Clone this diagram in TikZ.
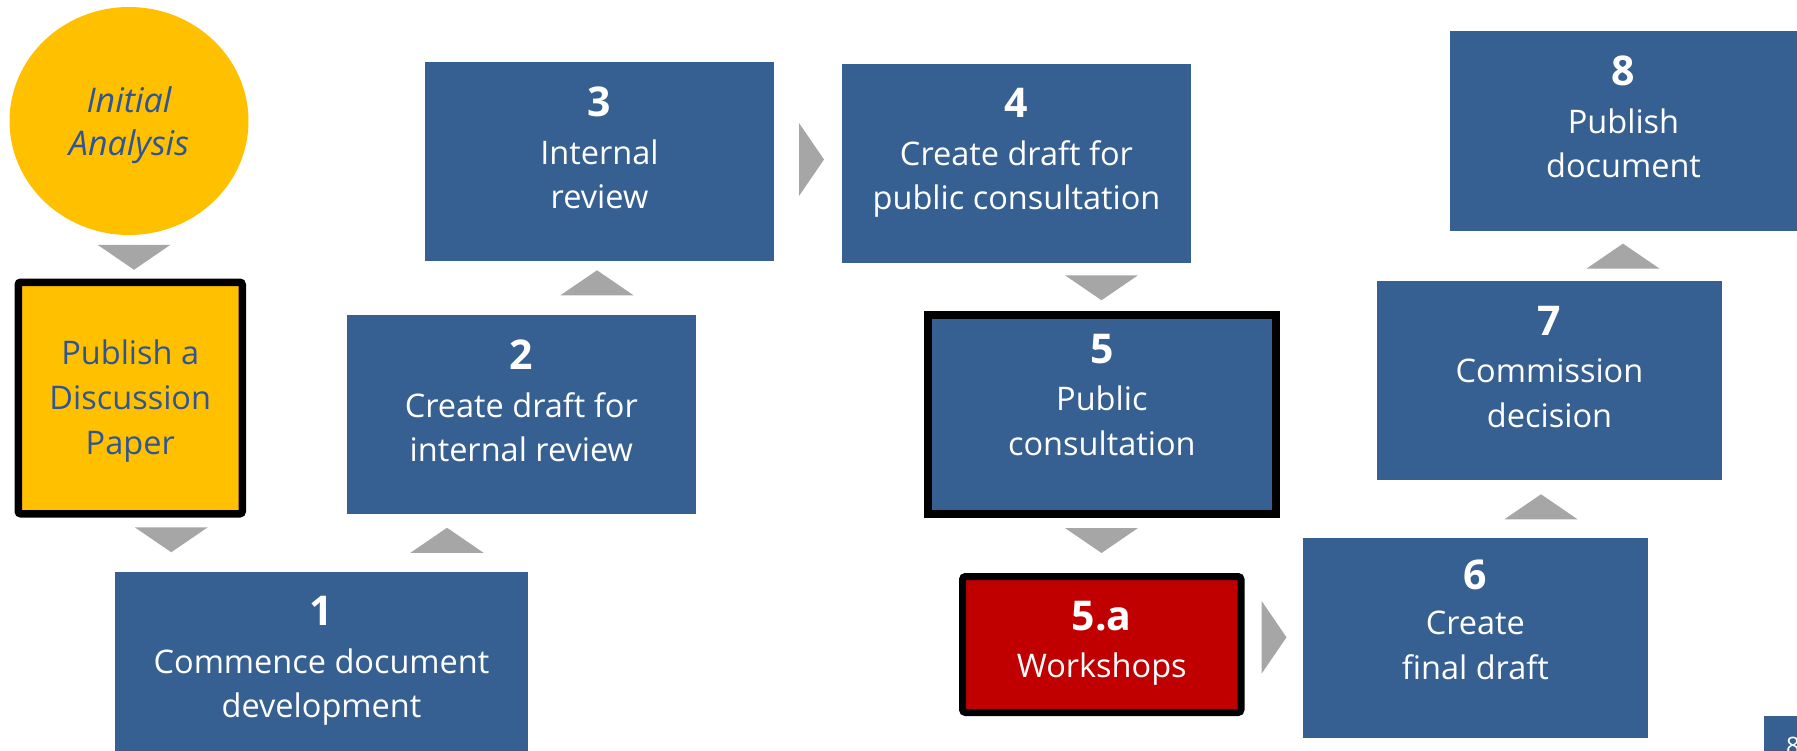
\documentclass[tikz,border=0pt]{standalone}
\usepackage{fontspec}
\setmainfont{Open Sans}
\usetikzlibrary{shapes.geometric}

\definecolor{stepblue}{HTML}{376092}
\definecolor{inkblue}{HTML}{2F5597}
\definecolor{gold}{HTML}{FFC000}
\definecolor{alertred}{HTML}{C00000}
\definecolor{chevgray}{HTML}{A6A6A6}

\newcommand{\bodysize}{\fontsize{32.5}{44.5}\selectfont}
\newcommand{\stepno}[2][3pt]{{\fontsize{41}{44.5}\selectfont\bfseries #2}\\[#1]}

\tikzset{
  stepbox/.style={rectangle, fill=stepblue, draw=none, inner sep=0pt},
  steptext/.style={text=white, align=center, inner sep=0pt, anchor=north, font=\bodysize},
  goldtext/.style={text=inkblue, align=center, inner sep=0pt},
  chevdown/.pic={\fill[chevgray] (-36.5,-12.5) -- (36.5,-12.5) -- (0,12.5) -- cycle;},
  chevup/.pic={\fill[chevgray] (-36.5,12.5) -- (36.5,12.5) -- (0,-12.5) -- cycle;},
  chevright/.pic={\fill[chevgray] (-12.5,-36.5) -- (-12.5,36.5) -- (12.5,0) -- cycle;},
}

\begin{document}
\begin{tikzpicture}[x=1pt, y=-1pt]
\useasboundingbox (0,0) rectangle (1797,750);
\clip (0,0) rectangle (1797,750);

% starting point and discussion paper
\node[ellipse, fill=gold, minimum width=239pt, minimum height=228pt, inner sep=0pt]
  (init) at (129,121) {};
\node[goldtext, font={\fontsize{34}{43}\selectfont\itshape}]
  (inittext) at ([yshift=-4pt]init.center) {Initial\\Analysis};
\node[rectangle, fill=gold, draw=black, line width=7.5pt, rounded corners=2.5pt,
      minimum width=224pt, minimum height=231.5pt, inner sep=0pt]
  (paper) at (130.25,398) {};
\node[goldtext, font={\fontsize{32.5}{45}\selectfont}]
  (papertext) at ([yshift=-3pt]paper.center) {Publish a\\Discussion\\Paper};

% process steps
\node[stepbox, minimum width=413pt, minimum height=260pt] (b1) at (321.5,701.5) {};
\node[stepbox, minimum width=348.6pt, minimum height=198.5pt] (b2) at (521.3,414.25) {};
\node[stepbox, minimum width=349pt, minimum height=199pt] (b3) at (599.5,161.5) {};
\node[stepbox, minimum width=349pt, minimum height=199pt] (b4) at (1016.5,163) {};
\node[stepbox, draw=black, line width=8pt, minimum width=348.3pt, minimum height=198.5pt]
  (b5) at (1101.85,414.25) {};
\node[rectangle, fill=alertred, draw=black, line width=7pt, rounded corners=3pt,
      minimum width=278.5pt, minimum height=136pt, inner sep=0pt] (b5a) at (1101.75,644.5) {};
\node[stepbox, minimum width=345.3pt, minimum height=200pt] (b6) at (1475.35,638) {};
\node[stepbox, minimum width=345pt, minimum height=199pt] (b7) at (1549.5,380.5) {};
\node[stepbox, minimum width=347pt, minimum height=200pt] (b8) at (1623.5,131) {};

\node[steptext] (t1) at ([yshift=-25pt]b1.north) {\stepno{1}Commence document\\development};
\node[steptext] (t2) at ([yshift=-25pt]b2.north) {\stepno{2}Create draft for\\internal review};
\node[steptext] (t3) at ([yshift=-25pt]b3.north) {\stepno{3}Internal\\review};
\node[steptext] (t4) at ([yshift=-25pt]b4.north) {\stepno{4}Create draft for\\public consultation};
\node[steptext] (t5) at ([yshift=-23pt]b5.north) {\stepno{5}Public\\consultation};
\node[steptext] (t5a) at ([yshift=-28pt]b5a.north) {\stepno{5.a}Workshops};
\node[steptext] (t6) at ([yshift=-22pt]b6.north) {\stepno[0.5pt]{6}Create\\final draft};
\node[steptext] (t7) at ([yshift=-25pt]b7.north) {\stepno{7}Commission\\decision};
\node[steptext] (t8) at ([yshift=-25pt]b8.north) {\stepno{8}Publish\\document};

% page number tab in the corner
\node[stepbox, minimum width=70pt, minimum height=80pt] (page) at (1799,756) {};
\node[text=white, inner sep=0pt, anchor=north west, font={\fontsize{24}{28}\selectfont}]
  (pageno) at ([xshift=22pt,yshift=-21pt]page.north west) {8};

% flow chevrons
\pic at (134,257.25) {chevdown};
\pic at (171.25,539.75) {chevdown};
\pic at (447,540.25) {chevup};
\pic at (597,282.75) {chevup};
\pic at (811.5,159.5) {chevright};
\pic at (1101.5,287.75) {chevdown};
\pic at (1101.5,540.5) {chevdown};
\pic at (1274,637.3) {chevright};
\pic at (1541,506.75) {chevup};
\pic at (1623,256.1) {chevup};
\end{tikzpicture}
\end{document}
